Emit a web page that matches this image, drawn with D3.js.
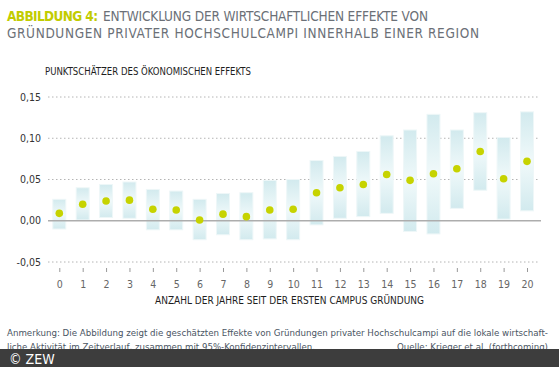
<!DOCTYPE html>
<html>
<head>
<meta charset="utf-8">
<script src="https://cdn.jsdelivr.net/npm/d3@7"></script>
<style>
  body { margin: 0; background: #fff; }
  svg text { font-family: "Liberation Sans Narrow", "DejaVu Sans Condensed", sans-serif; }
</style>
</head>
<body>
<div id="chart"></div>
<script>
// years since first campus founding
var years = [0, 1, 2, 3, 4, 5, 6, 7, 8, 9, 10, 11, 12, 13, 14, 15, 16, 17, 18, 19, 20];
// point estimates
var estimate = [0.009, 0.020, 0.024, 0.025, 0.014, 0.013, 0.001, 0.008, 0.005, 0.013, 0.014,
                0.034, 0.040, 0.044, 0.056, 0.049, 0.057, 0.063, 0.084, 0.051, 0.072];
// 95% confidence interval
var ciLow = [-0.010, 0.001, 0.004, 0.003, -0.011, -0.011, -0.023, -0.017, -0.023, -0.022, -0.023,
             -0.005, 0.003, 0.005, 0.009, -0.013, -0.016, 0.015, 0.037, 0.002, 0.012];
var ciHigh = [0.026, 0.040, 0.044, 0.047, 0.038, 0.036, 0.026, 0.033, 0.034, 0.049, 0.050,
              0.073, 0.078, 0.084, 0.103, 0.110, 0.129, 0.110, 0.131, 0.101, 0.132];
var yTicks = [-0.05, 0, 0.05, 0.10, 0.15];

var width = 559, height = 367;
var svg = d3.select("#chart").append("svg")
    .attr("width", width)
    .attr("height", height);

var defs = svg.append("defs");
var grad = defs.append("linearGradient")
    .attr("id", "ciFill")
    .attr("x1", 0).attr("y1", 0).attr("x2", 0).attr("y2", 1);
grad.append("stop").attr("offset", "0%").attr("stop-color", "#d2eaee");
grad.append("stop").attr("offset", "50%").attr("stop-color", "#f0f9fa");
grad.append("stop").attr("offset", "100%").attr("stop-color", "#d2eaee");

// helper: stretch/squeeze a text to a measured width
function fit(sel, w, adjust) {
    return sel.attr("textLength", w).attr("lengthAdjust", adjust || "spacingAndGlyphs");
}

// title
var title = svg.append("g").attr("font-size", 13.5);
fit(title.append("text").attr("x", 7).attr("y", 21)
    .attr("fill", "#c2cc00").attr("font-weight", "bold"), 91, "spacing")
    .text("ABBILDUNG 4:");
fit(title.append("text").attr("x", 103).attr("y", 21).attr("fill", "#6b7077"), 325, "spacing")
    .text("ENTWICKLUNG DER WIRTSCHAFTLICHEN EFFEKTE VON");
fit(title.append("text").attr("x", 7).attr("y", 38).attr("fill", "#6b7077"), 472, "spacing")
    .text("GRÜNDUNGEN PRIVATER HOCHSCHULCAMPI INNERHALB EINER REGION");

var x = d3.scaleLinear().domain([0, 20]).range([59.3, 527]);
var y = d3.scaleLinear().domain([-0.05, 0.15]).range([262, 97]);

// y axis title
fit(svg.append("text")
    .attr("x", 45).attr("y", 75)
    .attr("font-size", 10.5).attr("fill", "#1e1e1e"), 206)
    .text("PUNKTSCHÄTZER DES ÖKONOMISCHEN EFFEKTS");

// grid
svg.append("g").selectAll("line")
    .data(yTicks.filter(d => d !== 0))
    .join("line")
    .attr("x1", 48).attr("x2", 538)
    .attr("y1", d => y(d)).attr("y2", d => y(d))
    .attr("stroke", "#b4b4b4")
    .attr("stroke-width", 1)
    .attr("stroke-dasharray", "1.5,2.5");

svg.append("g").selectAll("text")
    .data(yTicks)
    .join("text")
    .attr("x", 41).attr("y", d => y(d) + 3.5)
    .attr("text-anchor", "end")
    .attr("font-size", 10.5)
    .attr("fill", "#333")
    .text(d => d3.format(".2f")(d).replace(".", ",").replace("−", "-"));

// confidence interval bars
svg.append("g").selectAll("rect")
    .data(years)
    .join("rect")
    .attr("x", (d, i) => x(d) - 6.5)
    .attr("width", 13)
    .attr("y", (d, i) => y(ciHigh[i]))
    .attr("height", (d, i) => y(ciLow[i]) - y(ciHigh[i]))
    .attr("fill", "url(#ciFill)")
    .attr("stroke", "#eef7f8")
    .attr("stroke-width", 1);

// zero line
svg.append("line")
    .attr("x1", 48).attr("x2", 541)
    .attr("y1", y(0)).attr("y2", y(0))
    .attr("stroke", "#adadad")
    .attr("stroke-width", 1.5);

// point estimates
svg.append("g").selectAll("circle")
    .data(years)
    .join("circle")
    .attr("cx", d => x(d))
    .attr("cy", (d, i) => y(estimate[i]))
    .attr("r", 3.8)
    .attr("fill", "#c6d300");

// x axis
var xAxis = svg.append("g").attr("transform", "translate(0,268)")
    .call(d3.axisBottom(x).tickValues(years).tickSize(4).tickPadding(9).tickFormat(d3.format("d")));
xAxis.select(".domain").remove();
xAxis.selectAll(".tick line").attr("stroke", "#999");
xAxis.selectAll(".tick text")
    .attr("font-size", 10.5)
    .attr("fill", "#666")
    .attr("font-family", "'Liberation Sans Narrow', 'DejaVu Sans Condensed', sans-serif");

fit(svg.append("text")
    .attr("x", 155).attr("y", 304)
    .attr("font-size", 10.5).attr("fill", "#1e1e1e"), 269)
    .text("ANZAHL DER JAHRE SEIT DER ERSTEN CAMPUS GRÜNDUNG");

// note
var note = svg.append("g").attr("font-size", 9.5).attr("fill", "#4a5563");
fit(note.append("text").attr("x", 7).attr("y", 336), 541)
    .text("Anmerkung: Die Abbildung zeigt die geschätzten Effekte von Gründungen privater Hochschulcampi auf die lokale wirtschaft-");
fit(note.append("text").attr("x", 7).attr("y", 350), 308)
    .text("liche Aktivität im Zeitverlauf, zusammen mit 95%-Konfidenzintervallen.");
fit(note.append("text").attr("x", 397).attr("y", 350), 151)
    .text("Quelle: Krieger et al. (forthcoming)");

// footer bar
svg.append("rect")
    .attr("x", 0).attr("y", 349)
    .attr("width", width).attr("height", height - 349)
    .attr("fill", "#3d3d3d");
svg.append("text")
    .attr("x", 9).attr("y", 364)
    .attr("font-size", 14).attr("fill", "#fff")
    .attr("font-family", "'Liberation Sans', sans-serif")
    .text("© ZEW");
</script>
</body>
</html>
